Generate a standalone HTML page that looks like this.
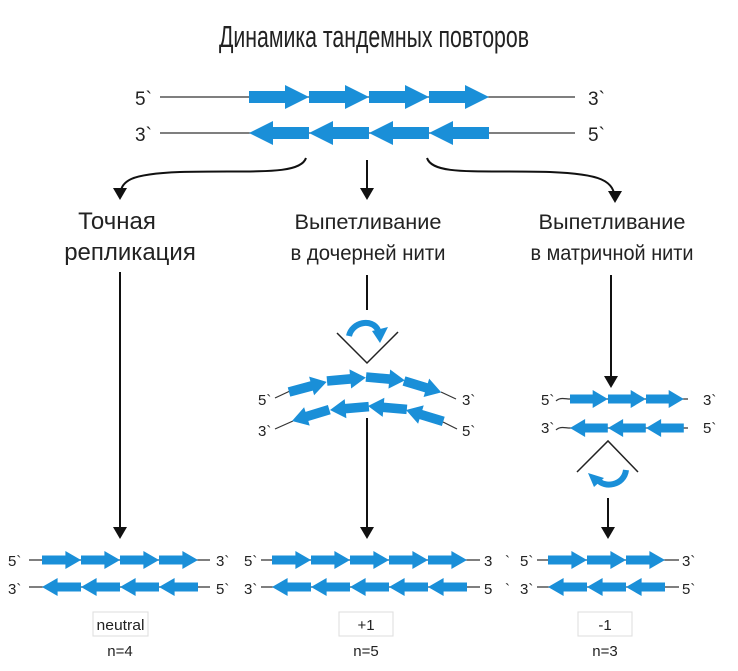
<!DOCTYPE html>
<html><head><meta charset="utf-8"><style>
html,body{margin:0;padding:0;background:#fff;}
svg{display:block}
text{font-family:"Liberation Sans",sans-serif;fill:#222}
</style></head><body>
<svg width="738" height="671" viewBox="0 0 738 671" xmlns="http://www.w3.org/2000/svg">
<defs>
<polygon id="ar" points="0,-6 36,-6 36,-12 60,0 36,12 36,6 0,6" fill="#1a8fd8"/>
<polygon id="al" points="0,0 24,-12 24,-6 60,-6 60,6 24,6 24,12" fill="#1a8fd8"/>
<marker id="mh" markerWidth="10" markerHeight="10" refX="8" refY="5" orient="auto" markerUnits="userSpaceOnUse"><path d="M0,0 L10,5 L0,10 Z" fill="#111"/></marker>
<marker id="mh2" markerWidth="12" markerHeight="14" refX="10" refY="7" orient="auto" markerUnits="userSpaceOnUse"><path d="M0,0 L12,7 L0,14 Z" fill="#111"/></marker>
</defs>

<text x="374" y="47" font-size="31" text-anchor="middle" textLength="310" lengthAdjust="spacingAndGlyphs">Динамика тандемных повторов</text>

<!-- top strands -->
<text x="135" y="105" font-size="19">5`</text>
<line x1="160" y1="97" x2="575" y2="97" stroke="#333" stroke-width="1.3"/>
<use href="#ar" x="249" y="97"/><use href="#ar" x="309" y="97"/><use href="#ar" x="369" y="97"/><use href="#ar" x="429" y="97"/>
<text x="588" y="105" font-size="19">3`</text>
<text x="135" y="141" font-size="19">3`</text>
<line x1="160" y1="133" x2="575" y2="133" stroke="#333" stroke-width="1.3"/>
<use href="#al" x="249" y="133"/><use href="#al" x="309" y="133"/><use href="#al" x="369" y="133"/><use href="#al" x="429" y="133"/>
<text x="588" y="141" font-size="19">5`</text>

<!-- branch arrows -->
<path d="M306,158 C300,176 250,170 180,172 C130,174 120,180 120,198" fill="none" stroke="#111" stroke-width="2" marker-end="url(#mh2)"/>
<line x1="367" y1="160" x2="367" y2="198" stroke="#111" stroke-width="2" marker-end="url(#mh2)"/>
<path d="M427,158 C433,176 480,170 550,172 C600,174 615,180 615,201" fill="none" stroke="#111" stroke-width="2" marker-end="url(#mh2)"/>

<text x="117" y="229" font-size="24" text-anchor="middle">Точная</text>
<text x="130" y="260" font-size="24" text-anchor="middle">репликация</text>
<text x="368" y="229" font-size="21" text-anchor="middle" textLength="147" lengthAdjust="spacingAndGlyphs">Выпетливание</text>
<text x="368" y="260" font-size="21" text-anchor="middle" textLength="155" lengthAdjust="spacingAndGlyphs">в дочерней нити</text>
<text x="612" y="229" font-size="21" text-anchor="middle" textLength="147" lengthAdjust="spacingAndGlyphs">Выпетливание</text>
<text x="612" y="260" font-size="21" text-anchor="middle" textLength="163" lengthAdjust="spacingAndGlyphs">в матричной нити</text>

<!-- left column -->
<line x1="120" y1="272" x2="120" y2="537" stroke="#111" stroke-width="2" marker-end="url(#mh2)"/>

<!-- middle column -->
<line x1="367" y1="275" x2="367" y2="310" stroke="#111" stroke-width="2"/>
<path d="M337,333 L367,363 L398,332" fill="none" stroke="#222" stroke-width="1.5"/>
<path d="M349,336 C352,322 372,318 378,330" fill="none" stroke="#1a8fd8" stroke-width="6"/>
<polygon points="372,331 388,327 380,343" fill="#1a8fd8"/>
<text x="258" y="405" font-size="15">5`</text>
<line x1="275" y1="398" x2="290" y2="391" stroke="#333" stroke-width="1.2"/>
<g transform="translate(289,392) rotate(-15) scale(0.65,0.8)"><use href="#ar"/></g>
<g transform="translate(327,381) rotate(-5) scale(0.65,0.8)"><use href="#ar"/></g>
<g transform="translate(366,377) rotate(5) scale(0.65,0.8)"><use href="#ar"/></g>
<g transform="translate(404,381) rotate(17) scale(0.65,0.8)"><use href="#ar"/></g>
<line x1="441" y1="392" x2="456" y2="399" stroke="#333" stroke-width="1.2"/>
<text x="462" y="405" font-size="15">3`</text>
<text x="258" y="436" font-size="15">3`</text>
<line x1="275" y1="429" x2="293" y2="421" stroke="#333" stroke-width="1.2"/>
<g transform="translate(292,421) rotate(-17) scale(0.65,0.8)"><use href="#al"/></g>
<g transform="translate(330,410) rotate(-5) scale(0.65,0.8)"><use href="#al"/></g>
<g transform="translate(368,406) rotate(5) scale(0.65,0.8)"><use href="#al"/></g>
<g transform="translate(406,410) rotate(17) scale(0.65,0.8)"><use href="#al"/></g>
<line x1="443" y1="422" x2="457" y2="429" stroke="#333" stroke-width="1.2"/>
<text x="462" y="436" font-size="15">5`</text>
<line x1="367" y1="418" x2="367" y2="537" stroke="#111" stroke-width="2" marker-end="url(#mh2)"/>

<!-- right column -->
<line x1="611" y1="275" x2="611" y2="386" stroke="#111" stroke-width="2" marker-end="url(#mh2)"/>
<text x="541" y="405" font-size="15">5`</text>
<path d="M556,401 C560,397 565,399 570,399 L688,399" fill="none" stroke="#333" stroke-width="1.2"/>
<g transform="translate(570,399) scale(0.63,0.75)"><use href="#ar"/></g>
<g transform="translate(608,399) scale(0.63,0.75)"><use href="#ar"/></g>
<g transform="translate(646,399) scale(0.63,0.75)"><use href="#ar"/></g>
<text x="703" y="405" font-size="15">3`</text>
<text x="541" y="433" font-size="15">3`</text>
<path d="M556,430 C560,426 565,428 570,428 L688,428" fill="none" stroke="#333" stroke-width="1.2"/>
<g transform="translate(570,428) scale(0.63,0.75)"><use href="#al"/></g>
<g transform="translate(608,428) scale(0.63,0.75)"><use href="#al"/></g>
<g transform="translate(646,428) scale(0.63,0.75)"><use href="#al"/></g>
<text x="703" y="433" font-size="15">5`</text>
<path d="M577,472 L608,441 L638,472" fill="none" stroke="#222" stroke-width="1.5"/>
<path d="M626,470 C624,486 604,488 598,480" fill="none" stroke="#1a8fd8" stroke-width="6"/>
<polygon points="588,473 604,478 594,487" fill="#1a8fd8"/>
<line x1="608" y1="498" x2="608" y2="537" stroke="#111" stroke-width="2" marker-end="url(#mh2)"/>

<!-- bottom rows -->
<g font-size="15">
<text x="8" y="566">5`</text><text x="216" y="566">3`</text>
<text x="8" y="594">3`</text><text x="216" y="594">5`</text>
<text x="244" y="566">5`</text><text x="484" y="566">3</text>
<text x="244" y="594">3`</text><text x="484" y="594">5</text>
<text x="505" y="566">`</text><text x="505" y="594">`</text>
<text x="520" y="566">5`</text><text x="682" y="566">3`</text>
<text x="520" y="594">3`</text><text x="682" y="594">5`</text>
</g>
<line x1="29" y1="560" x2="210" y2="560" stroke="#333" stroke-width="1.2"/>
<line x1="29" y1="587" x2="210" y2="587" stroke="#333" stroke-width="1.2"/>
<line x1="261" y1="560" x2="480" y2="560" stroke="#333" stroke-width="1.2"/>
<line x1="261" y1="587" x2="480" y2="587" stroke="#333" stroke-width="1.2"/>
<line x1="537" y1="560" x2="679" y2="560" stroke="#333" stroke-width="1.2"/>
<line x1="537" y1="587" x2="679" y2="587" stroke="#333" stroke-width="1.2"/>
<g>
<g transform="translate(42,560) scale(0.65,0.75)"><use href="#ar"/></g>
<g transform="translate(81,560) scale(0.65,0.75)"><use href="#ar"/></g>
<g transform="translate(120,560) scale(0.65,0.75)"><use href="#ar"/></g>
<g transform="translate(159,560) scale(0.65,0.75)"><use href="#ar"/></g>
<g transform="translate(42,587) scale(0.65,0.75)"><use href="#al"/></g>
<g transform="translate(81,587) scale(0.65,0.75)"><use href="#al"/></g>
<g transform="translate(120,587) scale(0.65,0.75)"><use href="#al"/></g>
<g transform="translate(159,587) scale(0.65,0.75)"><use href="#al"/></g>

<g transform="translate(272,560) scale(0.65,0.75)"><use href="#ar"/></g>
<g transform="translate(311,560) scale(0.65,0.75)"><use href="#ar"/></g>
<g transform="translate(350,560) scale(0.65,0.75)"><use href="#ar"/></g>
<g transform="translate(389,560) scale(0.65,0.75)"><use href="#ar"/></g>
<g transform="translate(428,560) scale(0.65,0.75)"><use href="#ar"/></g>
<g transform="translate(272,587) scale(0.65,0.75)"><use href="#al"/></g>
<g transform="translate(311,587) scale(0.65,0.75)"><use href="#al"/></g>
<g transform="translate(350,587) scale(0.65,0.75)"><use href="#al"/></g>
<g transform="translate(389,587) scale(0.65,0.75)"><use href="#al"/></g>
<g transform="translate(428,587) scale(0.65,0.75)"><use href="#al"/></g>

<g transform="translate(548,560) scale(0.65,0.75)"><use href="#ar"/></g>
<g transform="translate(587,560) scale(0.65,0.75)"><use href="#ar"/></g>
<g transform="translate(626,560) scale(0.65,0.75)"><use href="#ar"/></g>
<g transform="translate(548,587) scale(0.65,0.75)"><use href="#al"/></g>
<g transform="translate(587,587) scale(0.65,0.75)"><use href="#al"/></g>
<g transform="translate(626,587) scale(0.65,0.75)"><use href="#al"/></g>
</g>

<rect x="93" y="612" width="55" height="24" fill="#fff" stroke="#ddd"/>
<text x="120.5" y="630" font-size="15" text-anchor="middle" textLength="48" lengthAdjust="spacingAndGlyphs">neutral</text>
<rect x="339" y="612" width="54" height="24" fill="#fff" stroke="#ddd"/>
<text x="366" y="630" font-size="15" text-anchor="middle">+1</text>
<rect x="578" y="612" width="54" height="24" fill="#fff" stroke="#ddd"/>
<text x="605" y="630" font-size="15" text-anchor="middle">-1</text>
<text x="120" y="656" font-size="15" text-anchor="middle">n=4</text>
<text x="366" y="656" font-size="15" text-anchor="middle">n=5</text>
<text x="605" y="656" font-size="15" text-anchor="middle">n=3</text>
</svg>
</body></html>
